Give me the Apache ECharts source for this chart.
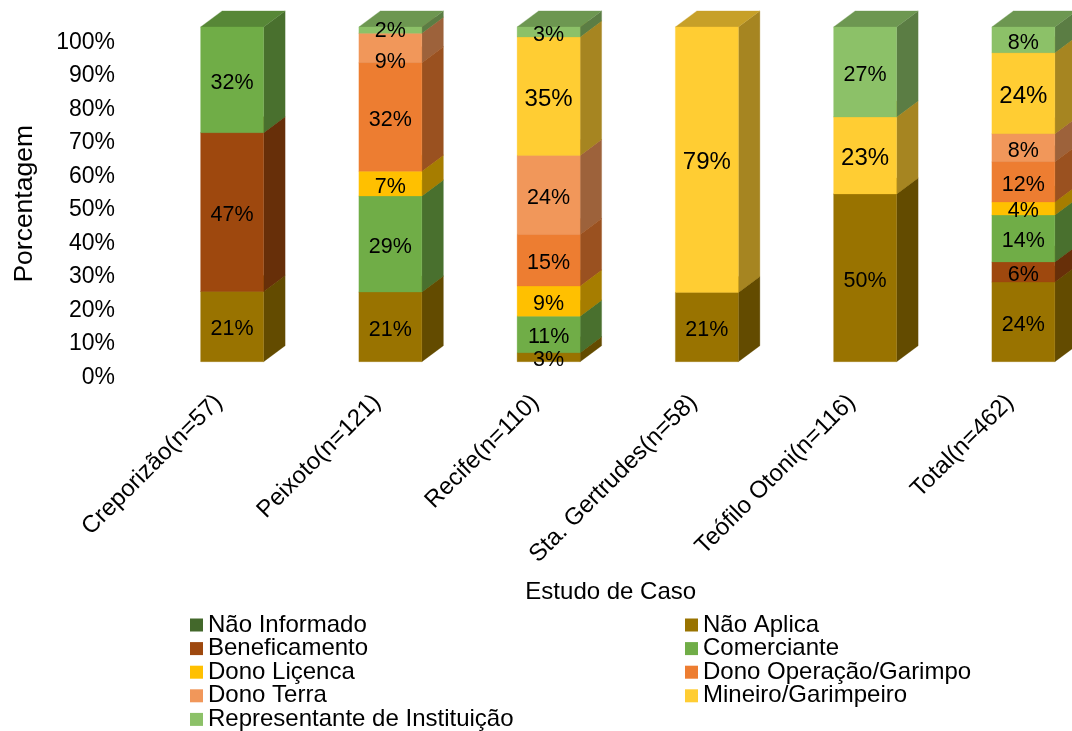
<!DOCTYPE html>
<html>
<head>
<meta charset="utf-8">
<style>html,body{margin:0;padding:0;background:#fff;overflow:hidden}#c{width:1072px;height:731px}</style>
<script src="https://cdn.jsdelivr.net/npm/echarts@6/dist/echarts.min.js"></script>
</head>
<body>
<div id="c"></div>
<script>
const categories = ['Creporizão(n=57)','Peixoto(n=121)','Recife(n=110)','Sta. Gertrudes(n=58)','Teófilo Otoni(n=116)','Total(n=462)'];
const naoInformado   = [0,0,0,0,0,0];
const naoAplica      = [21.0,20.8,2.7,20.7,50.1,23.8];
const beneficamento  = [47.4,0,0,0,0,6.0];
const comerciante    = [31.6,28.7,10.9,0,0,14.0];
const donoLicenca    = [0,7.4,9.0,0,0,3.9];
const donoOperacao   = [0,32.4,15.4,0,0,12.0];
const donoTerra      = [0,8.8,23.6,0,0,8.4];
const mineiro        = [0,0,35.4,79.3,23.0,24.2];
const representante  = [0,1.9,3.0,0,26.9,7.7];
const yTicks = [0,10,20,30,40,50,60,70,80,90,100];

const seriesDefs = [
  ['Não Informado', naoInformado, '#43682b', 21.5],
  ['Não Aplica', naoAplica, '#997300', 21.5],
  ['Beneficamento', beneficamento, '#9e480e', 21.5],
  ['Comerciante', comerciante, '#70ad47', 21.5],
  ['Dono Liçenca', donoLicenca, '#ffc000', 21.5],
  ['Dono Operação/Garimpo', donoOperacao, '#ed7d31', 21.5],
  ['Dono Terra', donoTerra, '#f1975a', 21.5],
  ['Mineiro/Garimpeiro', mineiro, '#ffcd33', 24],
  ['Representante de Instituição', representante, '#8cc168', 21.5]
];

const FONT = '"Liberation Sans", Arial, sans-serif';
const BAR_FRAC = 63 / 158.25, DX = 21.5, DY = 16, SHIFT = -15.5, LABEL_DROP = 3;

function shade(hex, f) {
  const n = parseInt(hex.slice(1), 16);
  return 'rgb(' + [(n>>16)&255, (n>>8)&255, n&255].map(v => Math.round(v*f)).join(',') + ')';
}

const bases = categories.map(() => 0);
const series = seriesDefs.map(([name, values, color, fontSize], si) => {
  const data = values.map((v, i) => {
    const item = [i, bases[i], bases[i] + v, v];
    bases[i] += v;
    return item;
  });
  return {
    name, type: 'custom', coordinateSystem: 'cartesian2d',
    itemStyle: { color },
    encode: { x: 0, y: [1, 2] },
    data,
    renderItem(params, api) {
      const v = api.value(3);
      if (!v) return { type: 'group', children: [] };
      const idx = api.value(0);
      const lo = api.coord([idx, api.value(1)]);
      const hi = api.coord([idx, api.value(2)]);
      const w = api.size([1, 0])[0] * BAR_FRAC;
      const x0 = lo[0] - w / 2, x1 = lo[0] + w / 2;
      const yb = lo[1] + SHIFT, yt = hi[1] + SHIFT;
      const poly = (points, fill) => ({ type: 'polygon', z2: si, shape: { points }, style: { fill, stroke: fill, lineWidth: 0.3 } });
      let drop = LABEL_DROP;
      if (idx === 1 && name === 'Dono Terra') drop = 14.5;
      if (idx === 1 && name === 'Representante de Instituição') drop = 1;
      return { type: 'group', children: [
        poly([[x1, yb], [x1 + DX, yb - DY], [x1 + DX, yt - DY], [x1, yt]], shade(color, 0.65)),
        poly([[x0, yt], [x1, yt], [x1 + DX, yt - DY], [x0 + DX, yt - DY]], shade(color, 0.78)),
        poly([[x0, yb], [x1, yb], [x1, yt], [x0, yt]], color),
        { type: 'text', z2: 100, style: {
            text: Math.round(v) + '%', x: lo[0], y: (yb + yt) / 2 + drop,
            align: 'center', verticalAlign: 'middle',
            font: fontSize + 'px ' + FONT, fill: '#000'
        } }
      ] };
    }
  };
});

const legendBase = {
  orient: 'vertical', icon: 'rect', itemWidth: 13, itemHeight: 13, itemGap: -0.4,
  selectedMode: false, top: 613, height: 130, padding: 0,
  textStyle: { fontFamily: FONT, fontSize: 24, color: '#000' }
};

const option = {
  animation: false,
  backgroundColor: '#fff',
  textStyle: { fontFamily: FONT },
  grid: { left: 153, top: 42.4, width: 949.5, height: 334.8, containLabel: false, outerBoundsMode: 'none' },
  legend: [
    Object.assign({}, legendBase, { left: 190, data: seriesDefs.filter((d,i)=>i%2===0).map(d=>d[0]) }),
    Object.assign({}, legendBase, { left: 685, data: seriesDefs.filter((d,i)=>i%2===1).map(d=>d[0]) })
  ],
  xAxis: {
    type: 'category', data: categories,
    axisLine: { show: false }, axisTick: { show: false }, splitLine: { show: false },
    axisLabel: { interval: 0, rotate: 45, margin: 8, padding: [0, 19, 0, 0], fontFamily: FONT, fontSize: 24, color: '#000' },
    name: 'Estudo de Caso', nameLocation: 'middle', nameGap: 203,
    nameTextStyle: { fontFamily: FONT, fontSize: 24, color: '#000', padding: [0, 34, 0, 0] }
  },
  yAxis: {
    type: 'value', min: yTicks[0], max: yTicks[yTicks.length-1], interval: yTicks[1]-yTicks[0],
    axisLine: { show: false }, axisTick: { show: false }, splitLine: { show: false },
    axisLabel: { margin: 38, formatter: '{value}%', fontFamily: FONT, fontSize: 23, color: '#000' },
    name: 'Porcentagem', nameLocation: 'middle', nameGap: 115,
    nameTextStyle: { fontFamily: FONT, fontSize: 26.5, color: '#000', padding: [0, 0, 0, 12] }
  },
  series
};
echarts.init(document.getElementById('c'), null, { renderer: 'canvas' }).setOption(option);
</script>
</body>
</html>
